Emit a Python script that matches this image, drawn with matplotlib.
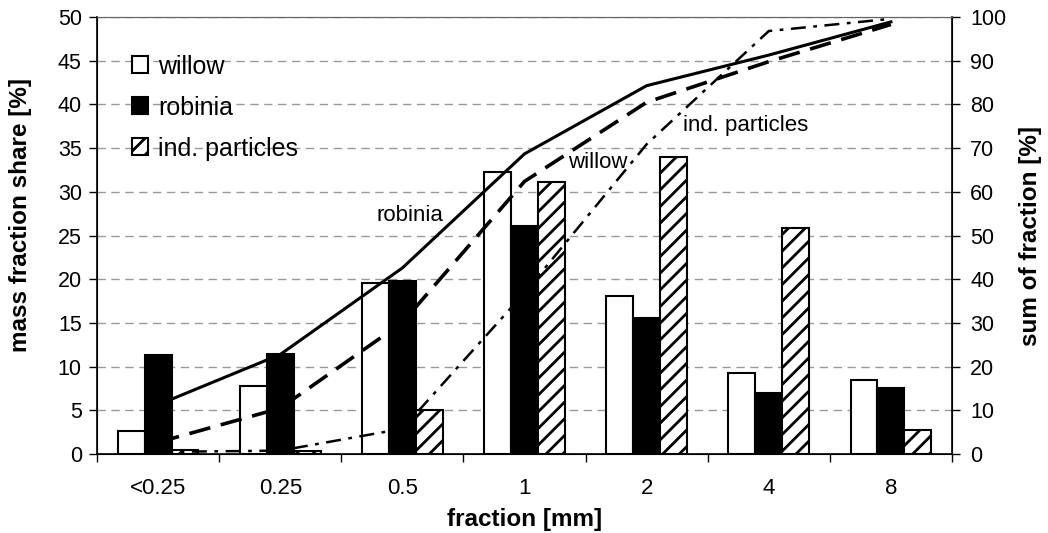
import matplotlib
matplotlib.use("Agg")
import matplotlib.pyplot as plt
import numpy as np

plt.rcParams['font.family'] = ['Liberation Sans', 'DejaVu Sans']
plt.rcParams['hatch.linewidth'] = 2.0

# fractions on the x axis
fractions = ['<0.25', '0.25', '0.5', '1', '2', '4', '8']

# mass fraction share [%] (bars, left axis)
willow = [2.7, 7.8, 19.6, 32.3, 18.1, 9.3, 8.5]
robinia = [11.3, 11.5, 19.8, 26.1, 15.6, 7.0, 7.6]
ind_particles = [0.5, 0.3, 5.0, 31.1, 34.0, 25.9, 2.8]

# sum of fraction [%] (lines, right axis)
willow_sum = [2.7, 10.5, 30.1, 62.4, 80.5, 89.8, 98.3]
robinia_sum = [11.3, 22.8, 42.6, 68.7, 84.3, 91.3, 98.9]
ind_sum = [0.5, 0.8, 5.8, 36.9, 70.9, 96.8, 99.6]

x = np.arange(len(fractions))
w = 0.22

fig = plt.figure(figsize=(10.48, 5.33), dpi=100)
ax = fig.add_axes([0.0926, 0.148, 0.8158, 0.82])

ax.bar(x - w, willow, w, color='white', edgecolor='black', linewidth=1.5, label='willow')
ax.bar(x, robinia, w, color='black', edgecolor='black', linewidth=1.5, label='robinia')
ax.bar(x + w, ind_particles, w, color='white', edgecolor='black', linewidth=1.5,
       hatch='//', label='ind. particles')

ax.set_xlim(-0.5, len(fractions) - 0.5)
ax.set_ylim(0, 50)
ax.set_yticks(np.arange(0, 51, 5))
ax.yaxis.grid(True, linestyle=(0, (6, 4)), color='#999999', linewidth=1)
ax.set_axisbelow(True)

# boundary ticks without labels, labels at the centres
ax.set_xticks(np.arange(-0.5, len(fractions), 1))
ax.set_xticklabels([])
ax.set_xticks(x, minor=True)
ax.set_xticklabels(fractions, minor=True)
ax.tick_params(axis='x', which='minor', length=0, pad=17, labelsize=16)
ax.tick_params(axis='x', which='major', length=6, width=1)
ax.tick_params(axis='y', length=6, width=1, labelsize=15.5, pad=5)

ax.set_xlabel('fraction [mm]', fontsize=17.5, fontweight='bold', labelpad=7)
ax.set_ylabel('mass fraction share [%]', fontsize=17.5, fontweight='bold')
ax.yaxis.set_label_coords(-0.076, 0.547)

for s in ['left', 'bottom']:
    ax.spines[s].set_linewidth(1.2)
ax.spines['top'].set_color('#666666')

ax.legend(loc='upper left', bbox_to_anchor=(0.029, 0.937), borderaxespad=0, frameon=False,
          fontsize=18, handlelength=0.65, handleheight=0.65, handletextpad=0.4,
          labelspacing=0.68)

ax2 = ax.twinx()
ax2.plot(x, robinia_sum, color='black', linewidth=2.2, linestyle='-')
ax2.plot(x, willow_sum, color='black', linewidth=2.6, linestyle=(0, (6, 3)))
ax2.plot(x, ind_sum, color='black', linewidth=1.8, linestyle=(0, (6, 3, 1.5, 3)))
ax2.set_ylim(0, 100)
ax2.set_yticks(np.arange(0, 101, 10))
ax2.tick_params(axis='y', length=6, width=1, labelsize=15.5, pad=7)
ax2.set_ylabel('sum of fraction [%]', fontsize=17.5, fontweight='bold', labelpad=9)
ax2.spines['right'].set_linewidth(1.2)
ax2.spines['top'].set_color('#666666')

ax2.text(2.06, 54.7, 'robinia', fontsize=16, ha='center', va='center')
ax2.text(3.6, 66.8, 'willow', fontsize=16, ha='center', va='center')
ax2.text(4.81, 75.3, 'ind. particles', fontsize=16, ha='center', va='center')

fig.savefig('out.png', dpi=100)
